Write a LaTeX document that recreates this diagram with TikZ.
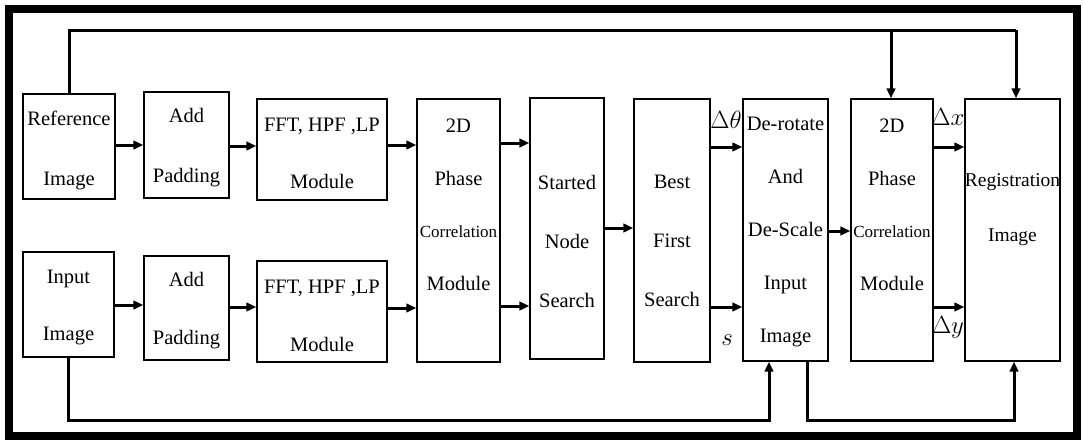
\documentclass[tikz,border=0pt]{standalone}
\usepackage{fontspec}
\setmainfont{Liberation Serif}
\usetikzlibrary{arrows.meta}
\begin{document}
\begin{tikzpicture}[x=1pt,y=-1pt,
 blk/.style={draw, line width=1.3pt, inner sep=0pt},
 txt/.style={align=center, inner sep=0pt, font=\fontsize{20.5}{58}\selectfont},
 arr/.style={line width=3pt, -{Triangle[length=10pt,width=8.5pt]}},
 fb/.style={line width=3pt},
 lbl/.style={inner sep=0pt, font=\fontsize{24}{28}\selectfont}]
\useasboundingbox[fill=white] (0,0) rectangle (1083,447);
\draw[line width=8pt] (9,9) rectangle (1077,436);

% boxes
\node[blk, minimum width=92pt, minimum height=105pt] (ref) at (69,146.5) {};
\node[blk, minimum width=85pt, minimum height=106pt] (pad1) at (186.5,145) {};
\node[blk, minimum width=130pt, minimum height=101pt] (fft1) at (322,149.5) {};
\node[blk, minimum width=83pt, minimum height=263pt] (pc1) at (458.5,230.5) {};
\node[blk, minimum width=74pt, minimum height=261pt] (sns) at (567,228.5) {};
\node[blk, minimum width=76pt, minimum height=263pt] (bfs) at (672,230.5) {};
\node[blk, minimum width=85pt, minimum height=262pt] (der) at (785.5,230) {};
\node[blk, minimum width=82pt, minimum height=262pt] (pc2) at (892,230) {};
\node[blk, minimum width=95pt, minimum height=262pt] (reg) at (1012.5,230) {};
\node[blk, minimum width=91pt, minimum height=105pt] (inp) at (68.5,304.5) {};
\node[blk, minimum width=85pt, minimum height=104pt] (pad2) at (186.5,308) {};
\node[blk, minimum width=130pt, minimum height=101pt] (fft2) at (322,311.5) {};

% texts
\node[txt, font=\fontsize{20.5}{60}\selectfont] (refT) at (69,150) {Reference\\Image};
\node[txt, font=\fontsize{20.5}{60}\selectfont] (pad1T) at (186.5,148) {Add\\Padding};
\node[txt, font=\fontsize{20.5}{57}\selectfont] (fft1T) at (322,153.5) {FFT, HPF ,LP\\Module};
\node[txt, font=\fontsize{20.5}{52.5}\selectfont] (pc1T) at (458.5,205) {2D\\Phase\\{\fontsize{17}{52.5}\selectfont Correlation}\\Module};
\node[txt, font=\fontsize{20.5}{59}\selectfont] (snsT) at (567,241) {Started\\Node\\Search};
\node[txt, font=\fontsize{20.5}{59}\selectfont] (bfsT) at (672,241) {Best\\First\\Search};
\node[txt, font=\fontsize{20.5}{53.2}\selectfont] (derT) at (785.5,232) {De-rotate\\And\\De-Scale\\Input\\Image};
\node[txt, font=\fontsize{20.5}{52.5}\selectfont] (pc2T) at (892,205) {2D\\Phase\\{\fontsize{17}{52.5}\selectfont Correlation}\\Module};
\node[txt, font=\fontsize{19.5}{55}\selectfont] (regT) at (1012.5,210) {Registration\\Image};
\node[txt, font=\fontsize{20.5}{57}\selectfont] (inpT) at (68.5,307) {Input\\Image};
\node[txt, font=\fontsize{20.5}{58}\selectfont] (pad2T) at (186.5,311) {Add\\Padding};
\node[txt, font=\fontsize{20.5}{58}\selectfont] (fft2T) at (322,316) {FFT, HPF ,LP\\Module};

% labels
\node[lbl] (dth) at (726,120) {$\Delta\theta$};
\node[lbl] (sl) at (727,340) {$s$};
\node[lbl] (dx) at (948,117) {$\Delta x$};
\node[lbl] (dy) at (948,327) {$\Delta y$};

% forward arrows
\draw[arr] (ref.east |- 0,145) -- (pad1.west |- 0,145);
\draw[arr] (pad1.east |- 0,146) -- (fft1.west |- 0,146);
\draw[arr] (fft1.east |- 0,145) -- (pc1.west |- 0,145);
\draw[arr] (pc1.east |- 0,143) -- (sns.west |- 0,143);
\draw[arr] (sns.east |- 0,228) -- (bfs.west |- 0,228);
\draw[arr] (bfs.east |- 0,147) -- (der.west |- 0,147);
\draw[arr] (bfs.east |- 0,307) -- (der.west |- 0,307);
\draw[arr] (inp.east |- 0,305) -- (pad2.west |- 0,305);
\draw[arr] (pad2.east |- 0,307) -- (fft2.west |- 0,307);
\draw[arr] (fft2.east |- 0,308) -- (pc1.west |- 0,308);
\draw[arr] (pc1.east |- 0,306) -- (sns.west |- 0,306);
\draw[arr] (der.east |- 0,231) -- (pc2.west |- 0,231);
\draw[arr] (pc2.east |- 0,147) -- (reg.west |- 0,147);
\draw[arr] (pc2.east |- 0,307) -- (reg.west |- 0,307);

% feedback lines
\coordinate (topR) at (1016,30);
\coordinate (topM) at (891,30);
\draw[fb] (ref.north) |- (topR);
\draw[arr] (topR) -- (topR |- reg.north);
\draw[arr] (topM) -- (topM |- pc2.north);

\coordinate (botA) at (769,420);
\coordinate (botB) at (807,420);
\coordinate (botC) at (1014,420);
\draw[arr] (inp.south) |- (botA) -- (botA |- der.south);
\draw[arr] (botB |- der.south) -- (botB) -- (botC) -- (botC |- reg.south);
\end{tikzpicture}
\end{document}
